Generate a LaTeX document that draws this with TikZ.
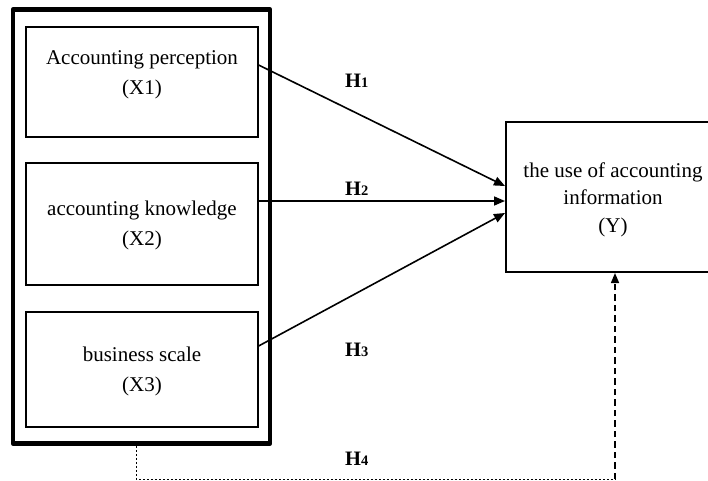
\documentclass[tikz,border=0pt]{standalone}
\usepackage{fontspec}
\setmainfont{Liberation Serif}
\usetikzlibrary{arrows.meta,calc}
\begin{document}
\begin{tikzpicture}[x=1pt,y=-1pt,
  box/.style={draw, line width=1.2pt, minimum width=232pt, inner sep=0pt},
  lbl/.style={font=\fontsize{21}{30}\selectfont, align=center, inner sep=0pt},
  hyp/.style={anchor=base west, inner sep=0pt, font=\bfseries\fontsize{20.5}{22}\selectfont},
  arr/.style={line width=1.6pt, -{Triangle[length=11pt,width=9pt]}},
  dotline/.style={line width=0.8pt, dash pattern=on 2.5pt off 1.5pt},
  dashline/.style={line width=1.5pt, dash pattern=on 6.5pt off 4pt, -{Triangle[length=10pt,width=8pt]}},
]
\useasboundingbox (0,0) rectangle (708,480);
% outer frame
\node[draw, line width=4.5pt, line join=round, minimum width=257pt, minimum height=434pt, inner sep=0pt] (outer) at (141.5,226.5) {};
% left boxes
\node[box, minimum height=110pt] (x1) at (142,82) {};
\node[box, minimum height=122pt] (x2) at (142,224) {};
\node[box, minimum height=115pt] (x3) at (142,369.5) {};
\node[lbl] (t1) at (142,74.5) {Accounting perception\\(X1)};
\node[lbl] (t2) at (142,225) {accounting knowledge\\(X2)};
\node[lbl] (t3) at (142,371) {business scale\\(X3)};
% right box
\node[draw, line width=2pt, minimum width=214pt, minimum height=150pt, inner sep=0pt] (ybox) at (613,197) {};
\node[lbl, font=\fontsize{21}{27.5}\selectfont] (ty) at (613,199.6) {the use of accounting\\information\\(Y)};
% hypothesis labels
\node[hyp] (h1) at (345,87) {H{\fontsize{14.5}{16}\selectfont 1}};
\node[hyp] (h2) at (345,195) {H{\fontsize{14.5}{16}\selectfont 2}};
\node[hyp] (h3) at (345,356) {H{\fontsize{14.5}{16}\selectfont 3}};
\node[hyp] (h4) at (345,465) {H{\fontsize{14.5}{16}\selectfont 4}};
% arrows
\draw[arr] ([yshift=17pt]x1.east) -- ([yshift=11pt]ybox.west);
\draw[arr] ([yshift=23pt]x2.east) -- ([yshift=-4pt]ybox.west);
\draw[arr] ([yshift=23.5pt]x3.east) -- ([yshift=-16pt]ybox.west);
% H4 path
\coordinate (c1) at (615,479);
\draw[dotline] ([xshift=-5.5pt]outer.south) |- (c1);
\draw[dashline] (c1) -- (c1 |- ybox.south);
\end{tikzpicture}
\end{document}
